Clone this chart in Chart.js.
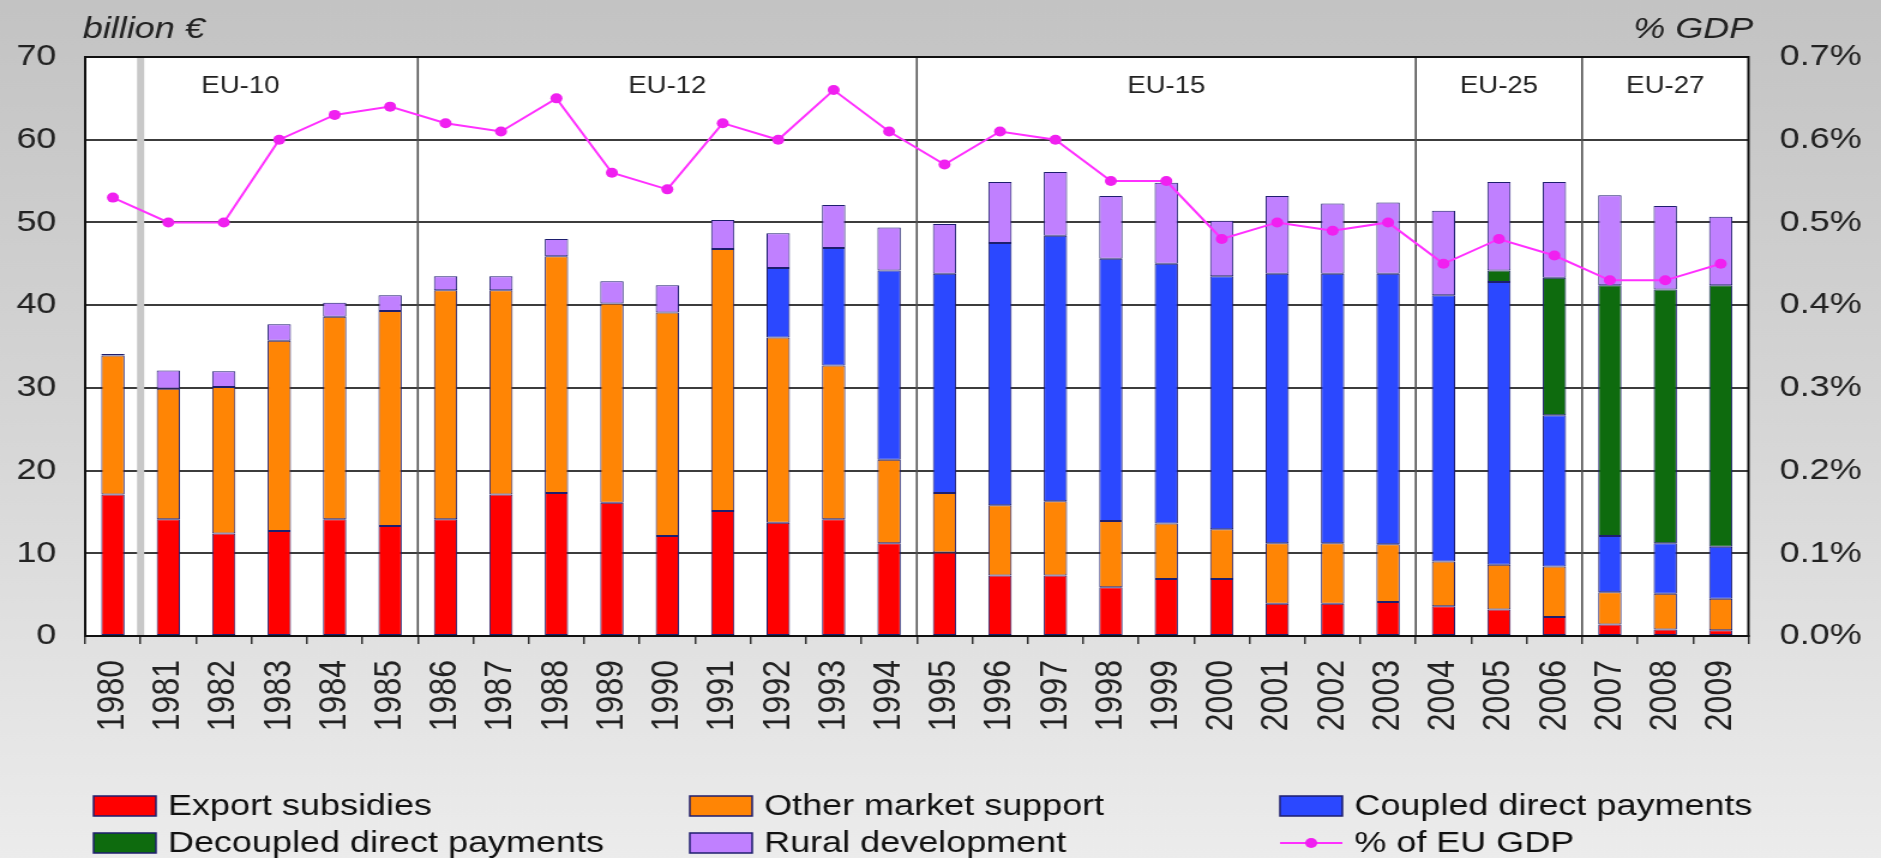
<!DOCTYPE html>
<html>
<head>
<meta charset="utf-8">
<script src="https://cdn.jsdelivr.net/npm/chart.js@4.4.1/dist/chart.umd.min.js"></script>
<style>
html, body { margin: 0; padding: 0; overflow: hidden; background: #dcdcdc; }
canvas { display: block; }
</style>
</head>
<body>
<!-- the original picture is stretched sideways, so the canvas is drawn narrower and widened by css -->
<canvas id="myChart" width="1568" height="858" style="width:1881px;height:858px"></canvas>
<script>
const years = ['1980', '1981', '1982', '1983', '1984', '1985', '1986', '1987', '1988', '1989',
    '1990', '1991', '1992', '1993', '1994', '1995', '1996', '1997', '1998', '1999',
    '2000', '2001', '2002', '2003', '2004', '2005', '2006', '2007', '2008', '2009'];

// billion euro
const exportSubsidies = [17.1, 14.1, 12.4, 12.7, 14.1, 13.3, 14.1, 17.1, 17.3, 16.1,
    12.1, 15.1, 13.7, 14.1, 11.2, 10.1, 7.3, 7.3, 5.9, 6.9,
    6.9, 3.9, 3.9, 4.1, 3.6, 3.2, 2.3, 1.4, 0.8, 0.7];
const otherMarketSupport = [16.8, 15.8, 17.7, 23.0, 24.5, 26.0, 27.7, 24.7, 28.6, 24.1,
    27.0, 31.7, 22.4, 18.6, 10.1, 7.2, 8.5, 9.0, 8.0, 6.7,
    6.0, 7.3, 7.3, 7.0, 5.4, 5.4, 6.1, 3.9, 4.3, 3.8];
const coupledPayments = [null, null, null, null, null, null, null, null, null, null,
    null, null, 8.4, 14.2, 22.9, 26.5, 31.7, 32.1, 31.7, 31.4,
    30.6, 32.6, 32.6, 32.7, 32.2, 34.2, 18.3, 6.8, 6.1, 6.3];
const decoupledPayments = [null, null, null, null, null, null, null, null, null, null,
    null, null, null, null, null, null, null, null, null, null,
    null, null, null, null, null, 1.4, 16.6, 30.3, 30.7, 31.6];
const ruralDevelopment = [0.2, 2.2, 1.9, 2.0, 1.7, 1.9, 1.7, 1.7, 2.1, 2.7,
    3.3, 3.5, 4.2, 5.2, 5.2, 6.0, 7.4, 7.7, 7.6, 9.8,
    6.7, 9.4, 8.5, 8.6, 10.2, 10.7, 11.6, 10.9, 10.1, 8.3];
// % of EU GDP
const gdpShare = [0.53, 0.50, 0.50, 0.60, 0.63, 0.64, 0.62, 0.61, 0.65, 0.56,
    0.54, 0.62, 0.60, 0.66, 0.61, 0.57, 0.61, 0.60, 0.55, 0.55,
    0.48, 0.50, 0.49, 0.50, 0.45, 0.48, 0.46, 0.43, 0.43, 0.45];

const groupNames = ['EU-10', 'EU-12', 'EU-15', 'EU-25', 'EU-27'];
const groupLabelAt = [2.3, 10, 19, 25, 28];   // in category units
const groupBreaks = [5.5, 14.5, 23.5, 26.5];  // between years
const greeceBreak = 0.5;

const FONT = '"Liberation Sans", Arial, sans-serif';
const navy = '#1e1e6e';

const chartBits = {
    id: 'chartBits',
    beforeDraw(chart) {
        const { ctx, width, height, chartArea: a } = chart;
        ctx.save();
        const g = ctx.createLinearGradient(0, 0, 0, height);
        g.addColorStop(0, '#c3c3c3');
        g.addColorStop(0.5, '#d6d6d6');
        g.addColorStop(1, '#ececec');
        ctx.fillStyle = g;
        ctx.fillRect(0, 0, width, height);
        ctx.fillStyle = '#fff';
        ctx.fillRect(a.left, a.top, a.right - a.left, a.bottom - a.top);
        ctx.restore();
    },
    beforeDatasetsDraw(chart) {
        const { ctx, chartArea: a } = chart;
        const x = chart.scales.x;
        ctx.save();
        // Greece 1981
        ctx.strokeStyle = '#c8c8c8';
        ctx.lineWidth = 6;
        let px = x.getPixelForValue(greeceBreak);
        ctx.beginPath();
        ctx.moveTo(px, a.top);
        ctx.lineTo(px, a.bottom);
        ctx.stroke();

        ctx.strokeStyle = '#505050';
        ctx.lineWidth = 1.6;
        for (let b of groupBreaks) {
            px = x.getPixelForValue(b);
            ctx.beginPath();
            ctx.moveTo(px, a.top);
            ctx.lineTo(px, a.bottom);
            ctx.stroke();
        }

        ctx.fillStyle = '#222';
        ctx.font = '23px ' + FONT;
        ctx.textAlign = 'center';
        ctx.textBaseline = 'middle';
        for (let i = 0; i < groupNames.length; i++) {
            ctx.fillText(groupNames[i], x.getPixelForValue(groupLabelAt[i]), 87);
        }
        ctx.restore();
    },
    afterDatasetsDraw(chart) {
        const { ctx, chartArea: a } = chart;
        ctx.save();
        ctx.strokeStyle = '#111';
        ctx.lineWidth = 2;
        ctx.strokeRect(a.left, a.top, a.right - a.left, a.bottom - a.top);
        ctx.restore();
    },
    afterDraw(chart) {
        const { ctx, chartArea: a } = chart;
        ctx.save();
        ctx.fillStyle = '#222';
        ctx.font = 'italic 30px ' + FONT;
        ctx.textBaseline = 'alphabetic';
        ctx.textAlign = 'left';
        ctx.fillText('billion €', 69, 38);
        ctx.textAlign = 'right';
        ctx.fillText('% GDP', a.right + 4, 38);

        // legend, 3 columns
        const colX = [78, 575, 1067];
        const rowY = [806, 843];
        ctx.font = '30px ' + FONT;
        ctx.textAlign = 'left';
        ctx.textBaseline = 'middle';
        chart.data.datasets.forEach((ds, i) => {
            const bx = colX[i % 3];
            const by = rowY[Math.floor(i / 3)];
            if (ds.type === 'line') {
                ctx.strokeStyle = ds.borderColor;
                ctx.lineWidth = 2;
                ctx.beginPath();
                ctx.moveTo(bx, by);
                ctx.lineTo(bx + 52, by);
                ctx.stroke();
                ctx.fillStyle = ds.pointBackgroundColor;
                ctx.beginPath();
                ctx.arc(bx + 26, by, 5, 0, Math.PI * 2);
                ctx.fill();
            } else {
                ctx.fillStyle = ds.backgroundColor;
                ctx.fillRect(bx, by - 10, 52, 20);
                ctx.strokeStyle = navy;
                ctx.lineWidth = 1.5;
                ctx.strokeRect(bx, by - 10, 52, 20);
            }
            ctx.fillStyle = '#111';
            ctx.fillText(ds.label, bx + 62, by + 1);
        });
        ctx.restore();
    }
};

const barStyle = {
    type: 'bar',
    borderColor: navy,
    borderWidth: 1,
    borderSkipped: false,
    barPercentage: 0.42,
    categoryPercentage: 1,
    yAxisID: 'y',
    order: 1
};

const ctx = document.getElementById('myChart').getContext('2d');

const myChart = new Chart(ctx, {
    data: {
        labels: years,
        datasets: [
            { ...barStyle, label: 'Export subsidies', data: exportSubsidies, backgroundColor: '#ff0000' },
            { ...barStyle, label: 'Other market support', data: otherMarketSupport, backgroundColor: '#ff8505' },
            { ...barStyle, label: 'Coupled direct payments', data: coupledPayments, backgroundColor: '#2b48ff' },
            { ...barStyle, label: 'Decoupled direct payments', data: decoupledPayments, backgroundColor: '#0e6b0e' },
            { ...barStyle, label: 'Rural development', data: ruralDevelopment, backgroundColor: '#c080ff' },
            {
                type: 'line',
                label: '% of EU GDP',
                data: gdpShare,
                yAxisID: 'y1',
                borderColor: '#ff30ff',
                borderWidth: 2,
                pointRadius: 5,
                pointBorderWidth: 0,
                pointBackgroundColor: '#f020f0',
                tension: 0,
                order: 0
            }
        ]
    },
    options: {
        responsive: false,
        animation: false,
        devicePixelRatio: 1,
        layout: { padding: { top: 57, left: 0, right: 0, bottom: 0 } },
        plugins: {
            legend: { display: false },
            tooltip: { enabled: false }
        },
        scales: {
            x: {
                stacked: true,
                afterFit: (s) => { s.height = 222; },
                grid: { offset: true, drawOnChartArea: false, drawTicks: true, tickLength: 8, color: '#333', lineWidth: 1.5 },
                border: { color: '#111', width: 2 },
                ticks: {
                    autoSkip: false,
                    maxRotation: 90,
                    minRotation: 90,
                    padding: 16,
                    color: '#222',
                    font: { family: FONT, size: 32 }
                }
            },
            y: {
                stacked: true,
                position: 'left',
                min: 0,
                max: 70,
                afterFit: (s) => { s.width = 71; },
                grid: { color: '#3c3c3c', lineWidth: 2, drawTicks: false },
                border: { color: '#111', width: 2 },
                ticks: { stepSize: 10, padding: 24, color: '#222', font: { family: FONT, size: 30 } }
            },
            y1: {
                position: 'right',
                min: 0,
                max: 0.7,
                afterFit: (s) => { s.width = 110.5; },
                grid: { drawOnChartArea: false, drawTicks: false },
                border: { display: false },
                ticks: {
                    stepSize: 0.1,
                    padding: 26,
                    color: '#222',
                    font: { family: FONT, size: 30 },
                    callback: (v) => v.toFixed(1) + '%'
                }
            }
        }
    },
    plugins: [chartBits]
});
</script>
</body>
</html>
